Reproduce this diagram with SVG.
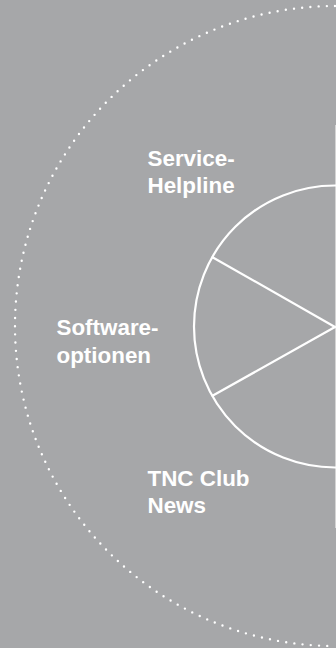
<svg xmlns="http://www.w3.org/2000/svg" width="336" height="648" viewBox="0 0 336 648">
  <style>
    .lbl { font-family: "Liberation Sans", Arial, Helvetica, sans-serif; font-weight: bold; font-size: 22.4px; fill: #ffffff; }
    .ring { fill: none; stroke: #ffffff; stroke-width: 2.2; }
    .dots { fill: none; stroke: #ffffff; stroke-width: 2.4; stroke-linecap: round; stroke-dasharray: 0 8.24; }
    .spoke { stroke: #ffffff; stroke-width: 2.2; stroke-linecap: round; }
  </style>
  <rect x="0" y="0" width="336" height="648" fill="#a6a7a9"/>
  <g id="outer-ring">
    <path class="dots" d="M335,6 A320,320 0 0 0 335,646"/>
  </g>
  <line x1="335.5" y1="125" x2="335.5" y2="528" stroke="#d4d4d4" stroke-width="1"/>
  <g id="wheel">
    <circle class="ring" cx="335" cy="326.5" r="141"/>
  </g>
  <g id="connectors">
    <line class="spoke" x1="212.5" y1="257.2" x2="335" y2="327"/>
    <line class="spoke" x1="212.5" y1="395.8" x2="335" y2="327"/>
  </g>
  <g id="service-helpline">
    <text class="lbl" x="147.5" y="166">Service-</text>
    <text class="lbl" x="147.5" y="193.3">Helpline</text>
  </g>
  <g id="softwareoptionen">
    <text class="lbl" x="56.5" y="335">Software-</text>
    <text class="lbl" x="56.5" y="362.5">optionen</text>
  </g>
  <g id="tnc-club-news">
    <text class="lbl" x="147.5" y="486">TNC Club</text>
    <text class="lbl" x="147.5" y="513.3">News</text>
  </g>
</svg>
